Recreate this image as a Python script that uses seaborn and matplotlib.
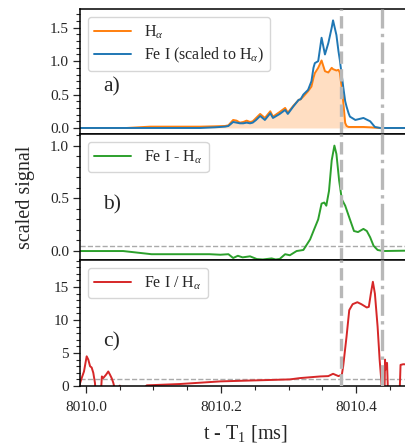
import numpy as np
import pandas as pd
import matplotlib
matplotlib.use("Agg")
import matplotlib.pyplot as plt
import seaborn as sns
from matplotlib.ticker import MultipleLocator, FormatStrFormatter

# ---------------- data (time offsets from 8010 ms) ----------------
T0 = 8010.0
t_a = [-0.012, 0.060, 0.095, 0.169, 0.191, 0.206, 0.211, 0.218, 0.223, 0.228,
       0.233, 0.238, 0.243, 0.247, 0.252, 0.258, 0.265, 0.273, 0.277, 0.287,
       0.295, 0.299, 0.307, 0.315, 0.318, 0.322, 0.329, 0.334, 0.337, 0.339,
       0.344, 0.349, 0.354, 0.359, 0.364, 0.366, 0.371, 0.374, 0.376, 0.380,
       0.381, 0.384, 0.386, 0.389, 0.391, 0.399, 0.411, 0.421, 0.428, 0.436,
       0.490]
h_alpha = [0.0, 0.0, 0.02, 0.02, 0.025, 0.03, 0.04, 0.12, 0.11, 0.08,
           0.09, 0.11, 0.09, 0.10, 0.15, 0.21, 0.15, 0.25, 0.17, 0.24,
           0.30, 0.23, 0.33, 0.42, 0.43, 0.47, 0.55, 0.62, 0.75, 0.82,
           0.90, 1.01, 0.85, 0.83, 0.90, 0.88, 0.86, 0.87, 0.83, 0.52,
           0.40, 0.075, 0.03, 0.015, 0.015, 0.015, 0.015, 0.01, 0.005, 0.0,
           0.0]
fe_scaled = [0.0, 0.0, 0.0, 0.0, 0.01, 0.02, 0.03, 0.09, 0.08, 0.07,
             0.07, 0.08, 0.07, 0.08, 0.12, 0.18, 0.12, 0.22, 0.15, 0.21,
             0.27, 0.21, 0.32, 0.42, 0.43, 0.50, 0.57, 0.70, 0.90, 0.97,
             1.00, 1.35, 1.10, 1.27, 1.50, 1.61, 1.39, 1.15, 1.02, 0.70,
             0.62, 0.40, 0.32, 0.22, 0.17, 0.12, 0.15, 0.10, 0.015, 0.0,
             0.0]

t_b = [-0.012, 0.055, 0.097, 0.183, 0.199, 0.211, 0.218, 0.225, 0.232, 0.243,
       0.253, 0.262, 0.275, 0.281, 0.287, 0.295, 0.302, 0.312, 0.322, 0.328,
       0.332, 0.337, 0.344, 0.349, 0.353, 0.356, 0.360, 0.364, 0.368, 0.371,
       0.375, 0.379, 0.384, 0.391, 0.397, 0.403, 0.411, 0.416, 0.421, 0.426,
       0.432, 0.440, 0.490]
fe_minus_h = [0.0, 0.0, -0.03, -0.03, -0.035, -0.03, -0.066, -0.045, -0.06, -0.05,
              -0.076, -0.08, -0.07, -0.08, -0.075, -0.03, -0.04, 0.0, 0.01, 0.07,
              0.11, 0.19, 0.30, 0.45, 0.46, 0.43, 0.57, 0.86, 1.00, 0.92,
              0.67, 0.49, 0.43, 0.30, 0.19, 0.18, 0.21, 0.19, 0.13, 0.05,
              0.01, 0.0, 0.005]

t_c = [-0.0095, -0.0064, -0.003, 0.001, 0.0034, 0.006, 0.0084, 0.0108, 0.0133, 0.0155,
       0.021, 0.0235, 0.0255, 0.0296, 0.033, 0.0356, 0.038, 0.0404, 0.044, 0.050,
       0.055, 0.085, 0.090, 0.139, 0.199, 0.302, 0.317, 0.347, 0.359, 0.366,
       0.374, 0.379, 0.381, 0.386, 0.390, 0.395, 0.402, 0.408, 0.416, 0.419,
       0.422, 0.425, 0.428, 0.432, 0.435, 0.437, 0.440, 0.442, 0.443, 0.444,
       0.446, 0.448, 0.464, 0.466, 0.470, 0.490]
fe_over_h = [0.2, 1.2, 2.2, 4.5, 4.0, 3.0, 2.8, 2.0, 0.45, -3.0,
             -3.0, 1.45, 1.2, 1.7, 2.2, 1.7, 1.2, 0.5, -1.0, 0.05,
             -1.0, -0.5, 0.1, 0.3, 0.7, 1.0, 1.2, 1.45, 1.5, 1.85,
             1.5, 1.7, 3.0, 7.5, 11.5, 12.4, 12.7, 12.4, 11.9, 12.0,
             14.0, 15.8, 14.0, 9.0, 4.0, 1.45, -3.0, -3.0, 4.0, 2.5,
             3.5, -3.0, -3.0, 3.2, 3.3, 3.2]

t_dashed = 0.378
t_dashdot = 0.439
thresh_b = 0.05
thresh_c = 1.0

xtick_labels = ["8010.0", "8010.2", "8010.4"]

# ---------------- style ----------------
sns.set_style("ticks")
plt.rcParams["font.family"] = ["Liberation Serif", "DejaVu Serif"]
plt.rcParams["mathtext.fontset"] = "custom"
plt.rcParams["mathtext.rm"] = "Liberation Serif"
plt.rcParams["mathtext.it"] = "Liberation Serif:italic"
plt.rcParams["axes.linewidth"] = 1.1
plt.rcParams["axes.edgecolor"] = "black"

C_OR, C_BL, C_GR, C_RD = "#ff7f0e", "#1f77b4", "#2ca02c", "#d62728"
GREY = "#b8b8b8"

df_a = pd.DataFrame({"t": np.array(t_a) + T0, "h": h_alpha, "fe": fe_scaled})
df_b = pd.DataFrame({"t": np.array(t_b) + T0, "d": fe_minus_h})
df_c = pd.DataFrame({"t": np.array(t_c) + T0, "r": fe_over_h})

fig = plt.figure(figsize=(4.06, 4.43), dpi=100)
H = 443.0
W = 406.0
left = 80 / W
width = (410 - 80) / W
ax_a = fig.add_axes([left, (H - 134) / H, width, 125 / H])
ax_b = fig.add_axes([left, (H - 260) / H, width, 126 / H], sharex=ax_a)
ax_c = fig.add_axes([left, (H - 386) / H, width, 126 / H], sharex=ax_a)

lw = 1.4
# panel a
ax_a.fill_between(df_a["t"], 0, df_a["h"], color=C_OR, alpha=0.25, lw=0)
sns.lineplot(data=df_a, x="t", y="h", ax=ax_a, color=C_OR, lw=lw,
             label=r"H$_\alpha$")
sns.lineplot(data=df_a, x="t", y="fe", ax=ax_a, color=C_BL, lw=lw,
             label=r"Fe I (scaled to H$_\alpha$)")
# panel b
sns.lineplot(data=df_b, x="t", y="d", ax=ax_b, color=C_GR, lw=lw,
             label=r"Fe I - H$_\alpha$")
ax_b.axhline(thresh_b, color="#aaaaaa", ls="--", lw=1.0, zorder=1)
# panel c
sns.lineplot(data=df_c, x="t", y="r", ax=ax_c, color=C_RD, lw=lw,
             label=r"Fe I / H$_\alpha$")
ax_c.axhline(thresh_c, color="#aaaaaa", ls="--", lw=1.0, zorder=1)

for ax in (ax_a, ax_b, ax_c):
    ax.axvline(T0 + t_dashed, color=GREY, ls="--", lw=2.4, zorder=3)
    ax.axvline(T0 + t_dashdot, color=GREY, ls="-.", lw=2.4, zorder=3)
    ax.set_xlabel("")
    ax.set_ylabel("")
    for s in ax.spines.values():
        s.set_visible(True)
        s.set_linewidth(1.1)
    ax.tick_params(axis="y", which="major", direction="out", length=5,
                   width=0.9, labelsize=11, pad=3)
    ax.tick_params(axis="y", which="minor", direction="out", length=3,
                   width=0.8, left=True)
    ax.legend(loc="upper left", fontsize=11.5, handlelength=2.3,
              frameon=True, fancybox=True, framealpha=0.8,
              edgecolor="#cccccc", borderaxespad=0.5, labelspacing=0.3)

ax_a.set_xlim(T0 - 6 / 675, T0 + (410 - 86) / 675)

ax_a.set_ylim(-0.09, 1.78)
ax_a.yaxis.set_major_locator(MultipleLocator(0.5))
ax_a.yaxis.set_minor_locator(MultipleLocator(0.1))
ax_a.yaxis.set_major_formatter(FormatStrFormatter("%.1f"))

ax_b.set_ylim(-0.085, 1.11)
ax_b.yaxis.set_major_locator(MultipleLocator(0.5))
ax_b.yaxis.set_minor_locator(MultipleLocator(0.1))
ax_b.yaxis.set_major_formatter(FormatStrFormatter("%.1f"))

ax_c.set_ylim(0, 19.1)
ax_c.yaxis.set_major_locator(MultipleLocator(5))
ax_c.yaxis.set_minor_locator(MultipleLocator(1))

for ax in (ax_a, ax_b):
    ax.tick_params(axis="x", which="both", bottom=False, labelbottom=False)

ax_c.xaxis.set_major_locator(MultipleLocator(0.2))
ax_c.xaxis.set_minor_locator(MultipleLocator(0.05))
ax_c.set_xticks([T0, T0 + 0.2, T0 + 0.4])
ax_c.set_xticklabels(xtick_labels)
ax_c.tick_params(axis="x", which="major", direction="out", length=5,
                 width=0.9, labelsize=11, pad=6)
ax_c.tick_params(axis="x", which="minor", direction="out", length=3,
                 width=0.8, bottom=True)

ax_c.set_xlabel(r"t - T$_1$ [ms]", fontsize=14.5, labelpad=6)
ax_b.set_ylabel("scaled signal", fontsize=14.5, labelpad=11)

ax_a.text(0.07, 0.376, "a)", transform=ax_a.transAxes, fontsize=15.5, va="center")
ax_b.text(0.07, 0.44, "b)", transform=ax_b.transAxes, fontsize=15.5, va="center")
ax_c.text(0.07, 0.35, "c)", transform=ax_c.transAxes, fontsize=15.5, va="center")

fig.savefig("out.png", dpi=100)
